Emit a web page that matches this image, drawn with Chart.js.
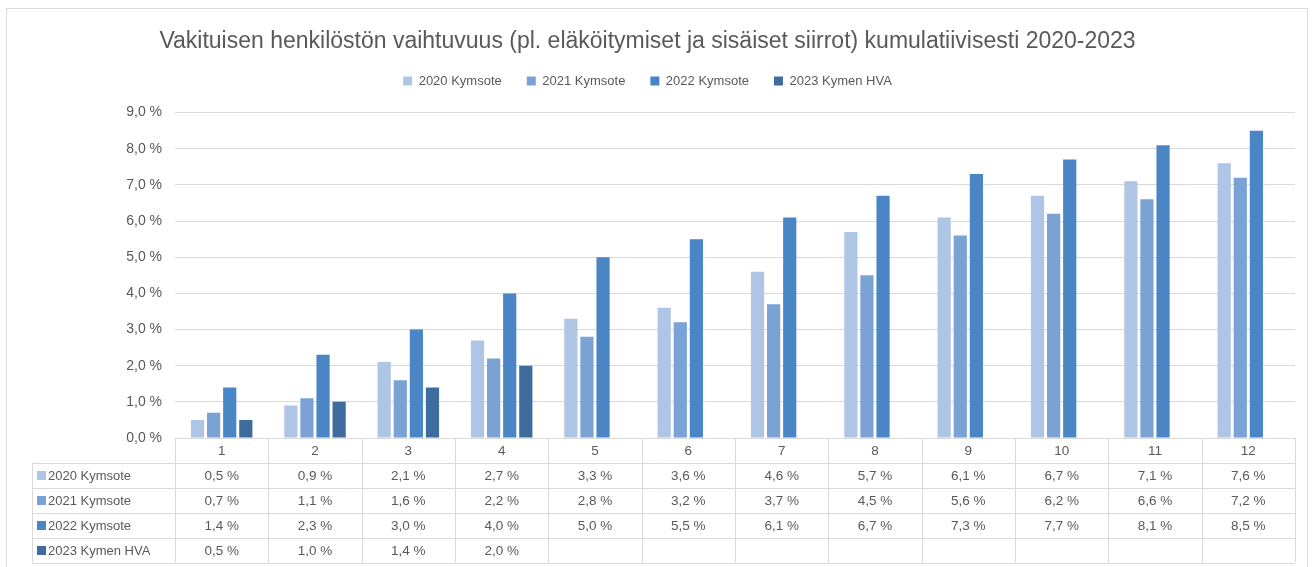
<!DOCTYPE html>
<html>
<head>
<meta charset="utf-8">
<script src="https://cdn.jsdelivr.net/npm/chart.js@4.4.1/dist/chart.umd.min.js"></script>
<style>
  body { margin: 0; background: #fff; }
  #wrap { position: relative; width: 1315px; height: 567px; }
  #frame { position: absolute; left: 6px; top: 8px; width: 1300px; height: 600px;
           border: 1px solid #d9d9d9; pointer-events: none; }
</style>
</head>
<body>
<div id="wrap">
  <canvas id="turnoverChart" width="1315" height="567"></canvas>
  <div id="frame"></div>
</div>
<script>
const categories = ['1','2','3','4','5','6','7','8','9','10','11','12'];
const seriesNames = ['2020 Kymsote','2021 Kymsote','2022 Kymsote','2023 Kymen HVA'];
const v2020 = [0.5,0.9,2.1,2.7,3.3,3.6,4.6,5.7,6.1,6.7,7.1,7.6];
const v2021 = [0.7,1.1,1.6,2.2,2.8,3.2,3.7,4.5,5.6,6.2,6.6,7.2];
const v2022 = [1.4,2.3,3.0,4.0,5.0,5.5,6.1,6.7,7.3,7.7,8.1,8.5];
const v2023 = [0.5,1.0,1.4,2.0,null,null,null,null,null,null,null,null];
const yTicks = [0,1,2,3,4,5,6,7,8,9];

const colors = ['#aec5e5','#7aa2d5','#4a86c5','#3e6c9f'];
const textColor = '#595959';
const gridColor = '#d9d9d9';
const font = '"Liberation Sans", Arial, sans-serif';
const legendExtra = 15;

const pct = v => v.toFixed(1).replace('.', ',') + ' %';

// extra room between legend and plot
const legendGap = {
    id: 'legendGap',
    beforeInit(chart) {
        const fit = chart.legend.fit;
        chart.legend.fit = function () {
            fit.call(this);
            this.height += legendExtra;
        };
    }
};

// data table under the plot, placed with the x scale
const dataTable = {
    id: 'dataTable',
    afterDraw(chart) {
        const ctx = chart.ctx;
        const x = chart.scales.x;
        const area = chart.chartArea;
        const colW = x.width / categories.length;
        const rowTop = area.bottom;
        const headH = 24.5;
        const rowH = 25;
        const labelLeft = 32;
        const rows = chart.data.datasets;
        const tableBottom = rowTop + headH + rowH * rows.length;

        ctx.save();
        ctx.strokeStyle = gridColor;
        ctx.lineWidth = 1;
        ctx.beginPath();
        ctx.moveTo(area.left, rowTop + 0.5);
        ctx.lineTo(area.right, rowTop + 0.5);
        for (let r = 0; r <= rows.length; r++) {
            const y = Math.round(rowTop + headH + rowH * r) + 0.5;
            ctx.moveTo(labelLeft, y);
            ctx.lineTo(area.right, y);
        }
        ctx.moveTo(labelLeft + 0.5, rowTop + headH);
        ctx.lineTo(labelLeft + 0.5, tableBottom);
        for (let i = 0; i <= categories.length; i++) {
            const xp = Math.round(area.left + colW * i) + 0.5;
            ctx.moveTo(xp, rowTop);
            ctx.lineTo(xp, tableBottom);
        }
        ctx.stroke();

        ctx.fillStyle = textColor;
        ctx.font = '13.5px ' + font;
        ctx.textAlign = 'center';
        ctx.textBaseline = 'middle';
        categories.forEach((c, i) => {
            ctx.fillText(c, x.getPixelForValue(i), rowTop + headH / 2 + 1);
        });
        rows.forEach((ds, r) => {
            const yc = rowTop + headH + rowH * r + rowH / 2 + 1;
            ctx.fillStyle = ds.backgroundColor;
            ctx.fillRect(labelLeft + 5, yc - 5, 9, 9);
            ctx.fillStyle = textColor;
            ctx.textAlign = 'left';
            ctx.font = '13px ' + font;
            ctx.fillText(ds.label, labelLeft + 16, yc);
            ctx.textAlign = 'center';
            ctx.font = '13.5px ' + font;
            ds.data.forEach((v, i) => {
                if (v !== null) ctx.fillText(pct(v), x.getPixelForValue(i), yc);
            });
        });
        ctx.restore();
    }
};

const ctx = document.getElementById('turnoverChart');

new Chart(ctx, {
    type: 'bar',
    data: {
        labels: categories,
        datasets: [
            { label: seriesNames[0], data: v2020, backgroundColor: colors[0] },
            { label: seriesNames[1], data: v2021, backgroundColor: colors[1] },
            { label: seriesNames[2], data: v2022, backgroundColor: colors[2] },
            { label: seriesNames[3], data: v2023, backgroundColor: colors[3] }
        ]
    },
    options: {
        responsive: false,
        animation: false,
        categoryPercentage: 0.69,
        barPercentage: 0.82,
        layout: {
            padding: { left: 0, right: 20, top: 0, bottom: 129 }
        },
        plugins: {
            title: {
                display: true,
                text: 'Vakituisen henkilöstön vaihtuvuus (pl. eläköitymiset ja sisäiset siirrot) kumulatiivisesti 2020-2023',
                color: textColor,
                font: { family: font, size: 23, weight: 'normal' },
                padding: { top: 28, bottom: -6 }
            },
            legend: {
                labels: {
                    color: textColor,
                    font: { family: font, size: 13 },
                    boxWidth: 9,
                    boxHeight: 9,
                    padding: 25
                }
            },
            tooltip: { enabled: false }
        },
        scales: {
            x: {
                display: false
            },
            y: {
                min: 0,
                max: 9,
                afterFit(axis) { axis.width = 175; },
                afterBuildTicks(axis) { axis.ticks = yTicks.map(v => ({ value: v })); },
                border: { display: false },
                grid: { color: gridColor, drawTicks: false },
                ticks: {
                    color: textColor,
                    padding: 13,
                    font: { family: font, size: 14 },
                    callback: v => pct(v)
                }
            }
        }
    },
    plugins: [legendGap, dataTable]
});
</script>
</body>
</html>
